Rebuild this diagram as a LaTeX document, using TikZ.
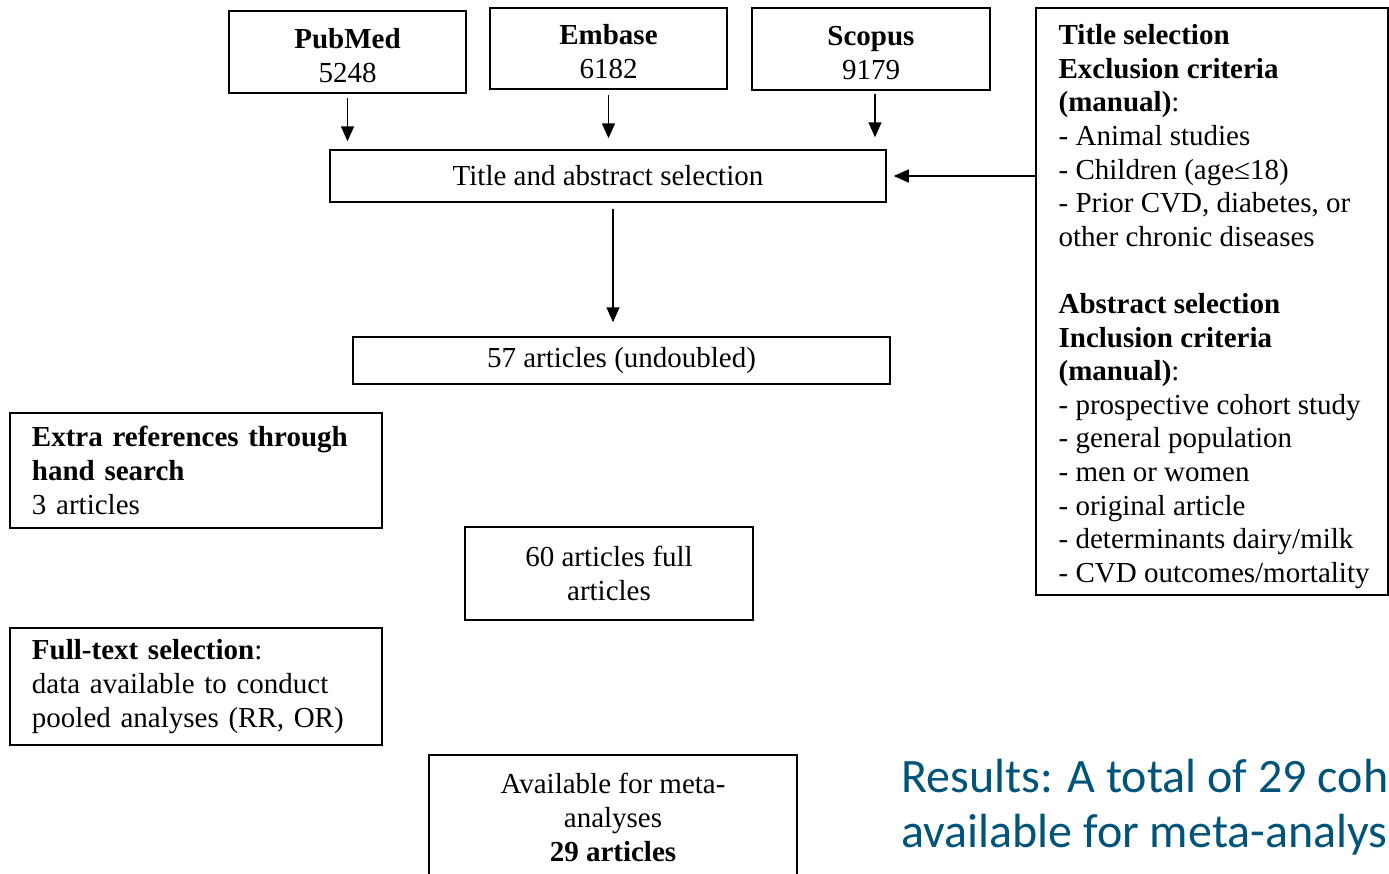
\documentclass[tikz,border=0pt]{standalone}
\usepackage{fontspec}
\setmainfont{Liberation Serif}
\newfontfamily\resultsfont{Carlito}
\usetikzlibrary{arrows.meta}
\definecolor{resblue}{RGB}{0,84,122}
% extra room above the first line of the database boxes
\newcommand\dbstrut{\rule{0pt}{13.4pt}}
\tikzset{
  box/.style={draw=black, line width=0.75pt, rectangle, inner sep=0pt, align=center,
              font=\fontsize{14.5}{17}\selectfont},
  leftbox/.style={box, align=left, text width=164pt, inner xsep=11pt},
  flow/.style={line width=0.75pt, -{Triangle[length=7.5pt,width=6.5pt]}},
  restext/.style={anchor=base west, inner sep=0pt, text=resblue,
                  font=\resultsfont\fontsize{24}{27.5}\selectfont},
}
\begin{document}
\begin{tikzpicture}[x=0.5pt, y=-0.5pt]
\useasboundingbox[fill=white] (0,0) rectangle (1389,874);
\clip (0,0) rectangle (1389,874);

% database searches
\node[box, minimum width=118.5pt, minimum height=41pt] (pub) at (347.5,52) {\dbstrut\textbf{PubMed}\\5248};
\node[box, minimum width=118.5pt, minimum height=40.5pt] (emb) at (608.5,48.5) {\dbstrut\textbf{Embase}\\6182};
\node[box, minimum width=119pt, minimum height=41pt] (sco) at (871,49) {\dbstrut\textbf{Scopus}\\9179};

% selection steps
\node[box, minimum width=278pt, minimum height=26pt] (tas) at (608,176) {Title and abstract selection};
\node[box, minimum width=268.5pt, minimum height=23.5pt] (a57) at (621.5,360.5) {57 articles (undoubled)};
\node[box, minimum width=144pt, minimum height=46.5pt] (a60) at (609,573.5) {60 articles full\\articles};
\node[box, minimum width=184pt, minimum height=62pt] (avail) at (613,817) {Available for meta-\\analyses\\\textbf{29 articles}};

% side notes
\node[leftbox, minimum height=57.5pt] (extra) at (196,470.5)
  {\textbf{Extra references through}\\\textbf{hand search}\\3 articles};
\node[leftbox, minimum height=58.5pt] (full) at (196,686.5)
  {\textbf{Full-text selection}:\\data available to conduct\\pooled analyses (RR, OR)};

% selection criteria
\node[box, minimum width=176pt, minimum height=293.5pt] (crit) at (1212,301.5) {};
\node[anchor=west, align=left, inner sep=0pt, font=\fontsize{14.5}{16.8}\selectfont] (critTxt)
  at ([xshift=11.5pt,yshift=-2.5pt]crit.west)
  {\textbf{Title selection}\\
   \textbf{Exclusion criteria}\\
   \textbf{(manual)}:\\
   - Animal studies\\
   - Children (age≤18)\\
   - Prior CVD, diabetes, or\\
   other chronic diseases\\[16.8pt]
   \textbf{Abstract selection}\\
   \textbf{Inclusion criteria}\\
   \textbf{(manual)}:\\
   - prospective cohort study\\
   - general population\\
   - men or women\\
   - original article\\
   - determinants dairy/milk\\
   - CVD outcomes/mortality};

% connectors
\draw[flow, shorten <=2pt, shorten >=4pt] (pub.south) -- (pub.south |- tas.north);
\draw[flow, shorten <=2.5pt, shorten >=5.5pt] (emb.south) -- (emb.south |- tas.north);
\draw[flow, shorten <=1.5pt, shorten >=6pt] ([xshift=2pt]sco.south) -- ([xshift=2pt]sco.south |- tas.north);
\draw[flow, shorten >=3.5pt] (crit.west |- tas.east) -- (tas.east);
\draw[flow, shorten <=3pt, shorten >=7pt] ([xshift=2.5pt]tas.south) -- ([xshift=2.5pt]tas.south |- a57.north);

% results caption
\node[restext] (res1) at (901,792) {Results: A total of 29 coh};
\node[restext] (res2) at (901,847) {available for meta-analys};
\end{tikzpicture}
\end{document}
